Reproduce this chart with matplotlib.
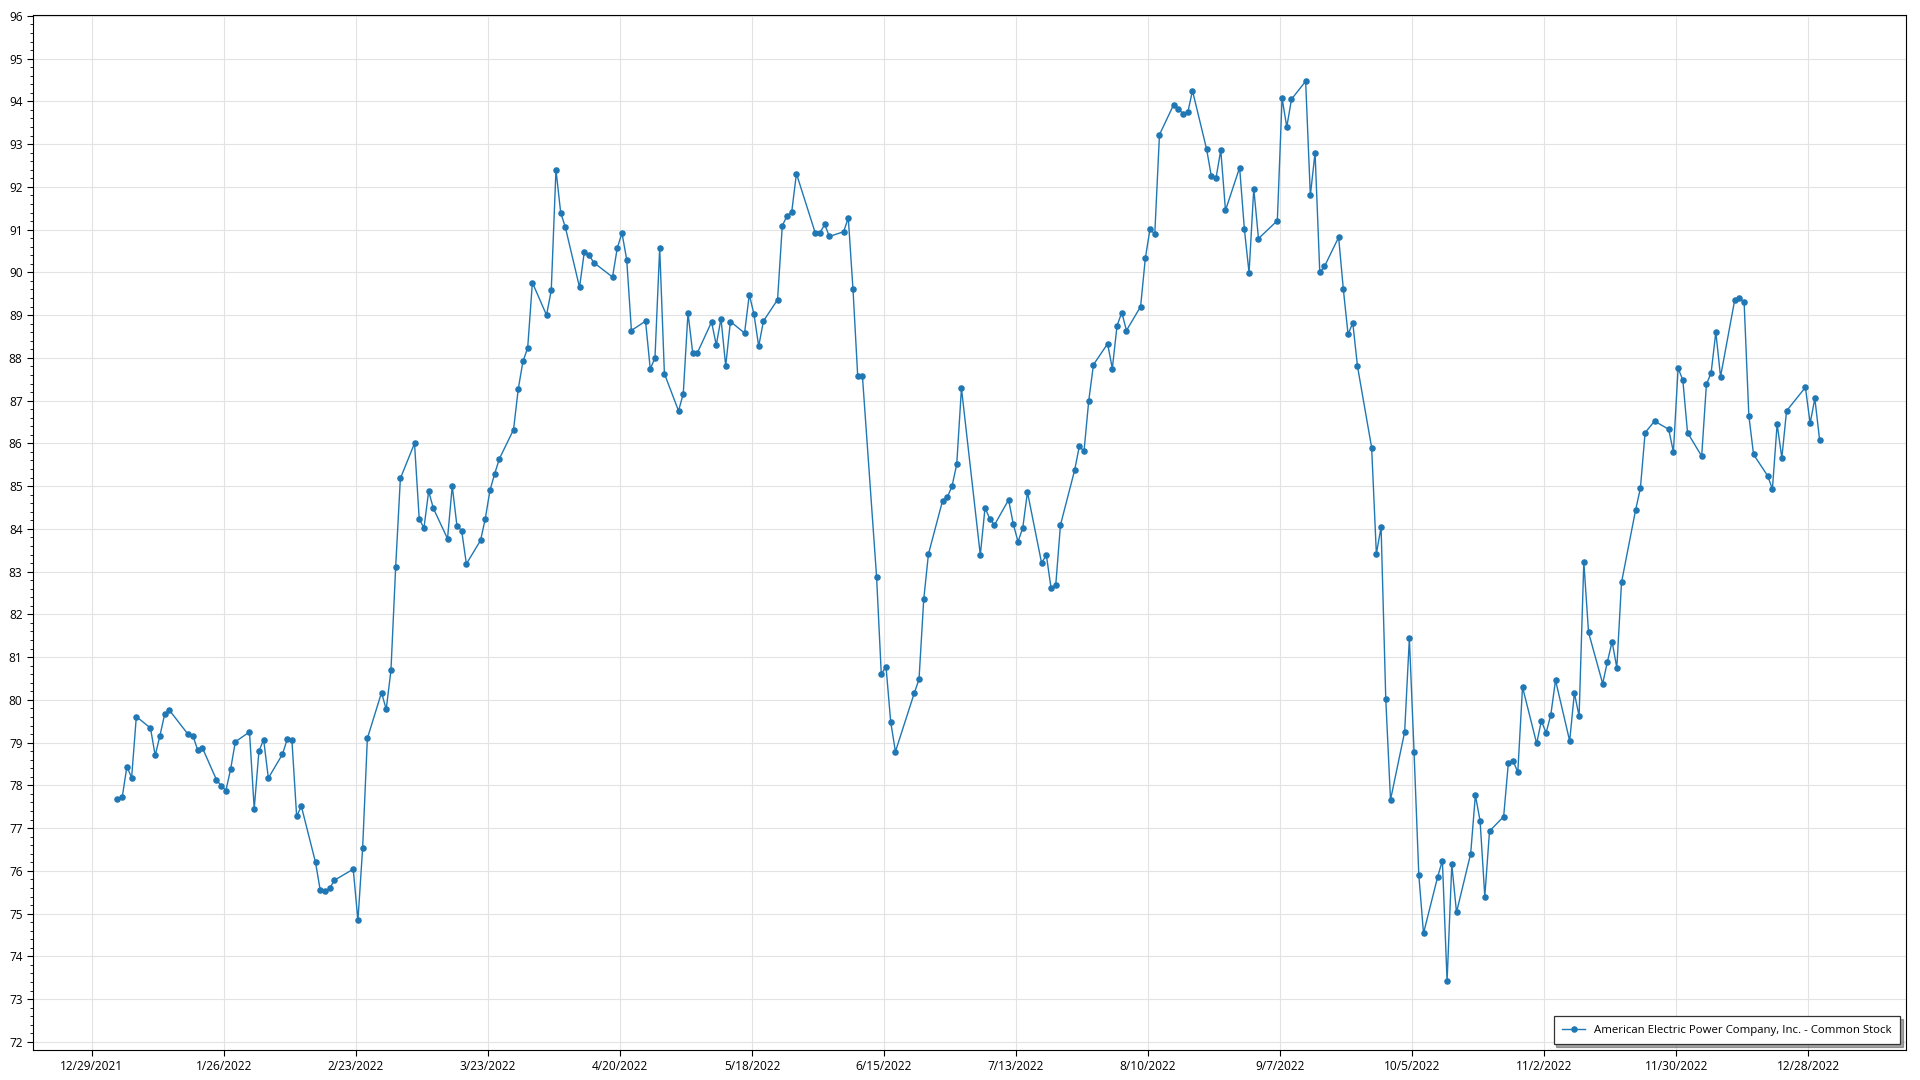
import pandas as pd
import matplotlib
matplotlib.use('Agg')
import matplotlib.pyplot as plt
from matplotlib.ticker import MultipleLocator

plt.rcParams['font.family'] = ['Open Sans', 'DejaVu Sans']

# closing prices, one list per month (trading days of 2022)
jan = [77.68, 77.72, 78.44, 78.18, 79.61, 79.34, 78.70, 79.16, 79.66, 79.76,
       79.19, 79.16, 78.83, 78.88, 78.13, 77.99, 77.88, 78.38, 79.02, 79.25]
feb = [77.45, 78.80, 79.07, 78.17, 78.73, 79.08, 79.05, 77.28, 77.51, 76.20,
       75.55, 75.52, 75.59, 75.78, 76.04, 74.84, 76.54, 79.10, 80.17]
mar = [79.78, 80.69, 83.10, 85.18, 86.00, 84.23, 84.02, 84.88, 84.48, 83.77,
       85.00, 84.07, 83.96, 83.18, 83.73, 84.23, 84.90, 85.29, 85.64, 86.32,
       87.27, 87.92, 88.23]
apr = [89.76, 89.00, 89.58, 92.40, 91.40, 91.05, 89.65, 90.47, 90.41, 90.23,
       89.89, 90.57, 90.92, 90.30, 88.64, 88.86, 87.74, 88.00, 90.57, 87.63]
may = [86.76, 87.16, 89.05, 88.12, 88.12, 88.84, 88.30, 88.92, 87.81, 88.85,
       88.58, 89.48, 89.02, 88.27, 88.86, 89.36, 91.09, 91.32, 91.41, 92.31,
       90.92]
jun = [90.93, 91.12, 90.84, 90.95, 91.27, 89.60, 87.57, 87.57, 82.88, 80.60,
       80.78, 79.48, 78.79, 80.16, 80.48, 82.35, 83.41, 84.66, 84.74, 85.00,
       85.51]
jul = [87.29, 83.39, 84.49, 84.24, 84.09, 84.68, 84.11, 83.70, 84.02, 84.86,
       83.20, 83.39, 82.62, 82.68, 84.09, 85.37, 85.93, 85.82, 87.00, 87.84]
aug = [88.33, 87.75, 88.75, 89.06, 88.64, 89.20, 90.33, 91.02, 90.89, 93.22,
       93.92, 93.83, 93.71, 93.74, 94.25, 92.88, 92.25, 92.21, 92.86, 91.45,
       92.45, 91.02, 89.99]
sep = [91.96, 90.79, 91.21, 94.08, 93.40, 94.05, 94.47, 91.80, 92.80, 90.00,
       90.14, 90.82, 89.60, 88.55, 88.82, 87.80, 85.90, 83.42, 84.04, 80.01,
       77.66]
oct_ = [79.25, 81.44, 78.77, 75.91, 74.54, 75.86, 76.24, 73.42, 76.15, 75.03,
        76.40, 77.77, 77.17, 75.40, 76.93, 77.27, 78.53, 78.57, 78.31, 80.30,
        78.98]
nov = [79.51, 79.23, 79.65, 80.46, 79.04, 80.16, 79.62, 83.23, 81.58, 80.38,
       80.89, 81.36, 80.75, 82.75, 84.45, 84.95, 86.25, 86.52, 86.33, 85.80,
       87.76]
dec = [87.48, 86.25, 85.70, 87.38, 87.65, 88.60, 87.56, 89.35, 89.41, 89.30,
       86.65, 85.74, 85.24, 84.93, 86.45, 85.66, 86.76, 87.31, 86.47, 87.05,
       86.09]

market_holidays = ['2022-01-17', '2022-02-21', '2022-04-15', '2022-05-30',
                   '2022-06-20', '2022-07-04', '2022-09-05', '2022-11-24',
                   '2022-12-26']
# timestamps are stored at 10:00 local, which is why points sit a bit right of the day line
dates = pd.bdate_range('2022-01-03', '2022-12-30', freq='C',
                       holidays=market_holidays) + pd.Timedelta(hours=10)
prices = jan + feb + mar + apr + may + jun + jul + aug + sep + oct_ + nov + dec

tick_dates = pd.date_range('2021-12-29', periods=14, freq='28D')

fig = plt.figure(figsize=(19.2, 10.8), dpi=100)
ax = fig.add_axes([33 / 1920, 30 / 1080, 1873 / 1920, 1035 / 1080])

ax.plot(dates, prices, color='#1f77b4', lw=1.0, marker='o', markersize=3.7,
        label='American Electric Power Company, Inc. - Common Stock')

ax.set_xlim(pd.Timestamp('2021-12-16 12:00'), pd.Timestamp('2023-01-17 18:00'))
ax.set_ylim(71.81, 96.02)

ax.set_xticks(tick_dates)
ax.set_xticklabels([f'{d.month}/{d.day}/{d.year}' for d in tick_dates])
ax.yaxis.set_major_locator(MultipleLocator(1))
ax.yaxis.set_minor_locator(MultipleLocator(0.2))

ax.grid(True, which='major', color='#e3e3e3', lw=0.8)
ax.set_axisbelow(True)
ax.tick_params(axis='both', which='major', labelsize=8.6, length=4, width=0.8,
               colors='black')
ax.tick_params(axis='y', which='minor', length=2, width=0.6)
for s in ax.spines.values():
    s.set_color('black')
    s.set_linewidth(0.8)

leg = ax.legend(loc='lower right', fontsize=8.2, fancybox=False, shadow=True,
                framealpha=1, borderaxespad=0.5, borderpad=0.75,
                handlelength=2.0)
leg.get_frame().set_edgecolor('#333333')
leg.get_frame().set_linewidth(0.9)

fig.savefig('out.png', dpi=100)
